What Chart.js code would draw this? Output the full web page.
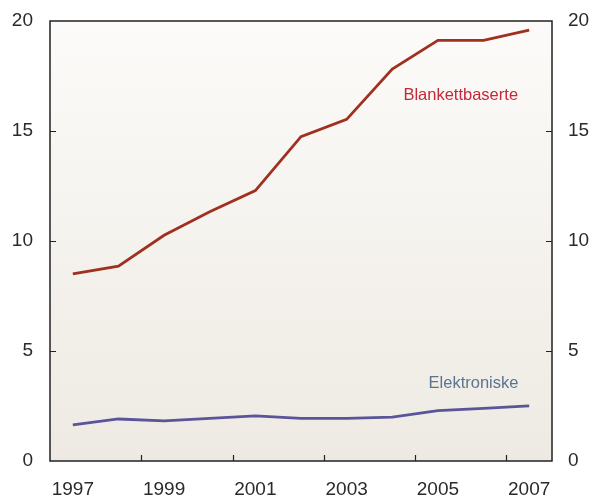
<!DOCTYPE html>
<html>
<head>
<meta charset="utf-8">
<script src="https://cdn.jsdelivr.net/npm/chart.js@4.4.1/dist/chart.umd.min.js"></script>
<style>
  html, body { margin: 0; padding: 0; background: #ffffff; }
  #wrap { width: 593px; height: 499px; }
</style>
</head>
<body>
<div id="wrap"><canvas id="c" width="593" height="499"></canvas></div>
<script>
const years = ['1997','1998','1999','2000','2001','2002','2003','2004','2005','2006','2007'];
const blankettbaserte = [8.51, 8.86, 10.26, 11.33, 12.29, 14.74, 15.53, 17.82, 19.12, 19.12, 19.59];
const elektroniske = [1.64, 1.91, 1.82, 1.94, 2.05, 1.94, 1.94, 1.99, 2.29, 2.39, 2.51];
const yTicks = [0, 5, 10, 15, 20];
const seriesNames = ['Blankettbaserte', 'Elektroniske'];

const FONT = "'Liberation Sans', Arial, sans-serif";

const annotations = [
  { text: seriesNames[0], xIndex: 8.5, y: 16.43, color: '#c4283a' },
  { text: seriesNames[1], xIndex: 8.78, y: 3.32, color: '#5b7590' }
];

const framePlugin = {
  id: 'frame',
  beforeDatasetsDraw(chart) {
    const { ctx, chartArea: a } = chart;
    const g = ctx.createLinearGradient(0, a.top, 0, a.bottom);
    g.addColorStop(0, '#fcfbf9');
    g.addColorStop(1, '#eeeae3');
    ctx.save();
    ctx.fillStyle = g;
    ctx.fillRect(a.left, a.top, a.right - a.left, a.bottom - a.top);
    ctx.restore();
  },
  afterDatasetsDraw(chart) {
    const { ctx, chartArea: a, scales } = chart;
    const xs = scales.x, ys = scales.y;
    ctx.save();
    ctx.strokeStyle = '#222222';
    ctx.lineWidth = 1.5;
    ctx.strokeRect(a.left, a.top, a.right - a.left, a.bottom - a.top);
    ctx.lineWidth = 1.2;
    ctx.beginPath();
    yTicks.forEach(v => {
      if (v === 0 || v === 20) return;
      const py = Math.round(ys.getPixelForValue(v)) + 0.5;
      ctx.moveTo(a.left, py); ctx.lineTo(a.left + 6, py);
      ctx.moveTo(a.right, py); ctx.lineTo(a.right - 6, py);
    });
    for (let i = 2; i < years.length; i += 2) {
      const px = Math.round((xs.getPixelForValue(i - 1) + xs.getPixelForValue(i)) / 2) + 0.5;
      ctx.moveTo(px, a.bottom); ctx.lineTo(px, a.bottom - 6);
    }
    ctx.stroke();
    ctx.font = '16.5px ' + FONT;
    ctx.textAlign = 'center';
    ctx.textBaseline = 'alphabetic';
    annotations.forEach(an => {
      const i0 = Math.floor(an.xIndex), f = an.xIndex - i0;
      const p0 = xs.getPixelForValue(i0), p1 = xs.getPixelForValue(i0 + 1);
      const px = p0 + (p1 - p0) * f;
      const py = ys.getPixelForValue(an.y);
      ctx.fillStyle = an.color;
      ctx.fillText(an.text, px, py);
    });
    ctx.restore();
  }
};

function noPad(s) { s.paddingTop = 0; s.paddingBottom = 0; s.paddingLeft = 0; s.paddingRight = 0; }

new Chart(document.getElementById('c'), {
  type: 'line',
  data: {
    labels: years,
    datasets: [
      { label: seriesNames[0], data: blankettbaserte, borderColor: '#a0301f', borderWidth: 2.8, pointRadius: 0, tension: 0, fill: false },
      { label: seriesNames[1], data: elektroniske, borderColor: '#5a5499', borderWidth: 2.8, pointRadius: 0, tension: 0, fill: false }
    ]
  },
  options: {
    responsive: false,
    animation: false,
    layout: { padding: { top: 21, left: 0, right: 0, bottom: 0 } },
    plugins: { legend: { display: false }, tooltip: { enabled: false } },
    scales: {
      x: {
        type: 'category',
        offset: true,
        grid: { display: false, drawTicks: false },
        border: { display: false },
        ticks: {
          autoSkip: false, maxRotation: 0, padding: 17,
          color: '#2a2a2a', font: { family: FONT, size: 19 },
          callback: function(v, i) { return i % 2 === 0 ? years[i] : ''; }
        },
        afterFit(s) { s.height = 38; noPad(s); }
      },
      y: {
        position: 'left', min: 0, max: 20,
        grid: { display: false, drawTicks: false },
        border: { display: false },
        ticks: { stepSize: 5, padding: 17, color: '#2a2a2a', font: { family: FONT, size: 19 } },
        afterFit(s) { s.width = 50; noPad(s); }
      },
      y2: {
        position: 'right', min: 0, max: 20,
        grid: { display: false, drawTicks: false },
        border: { display: false },
        ticks: { stepSize: 5, padding: 16, color: '#2a2a2a', font: { family: FONT, size: 19 } },
        afterFit(s) { s.width = 41; noPad(s); }
      }
    }
  },
  plugins: [framePlugin]
});
</script>
</body>
</html>
